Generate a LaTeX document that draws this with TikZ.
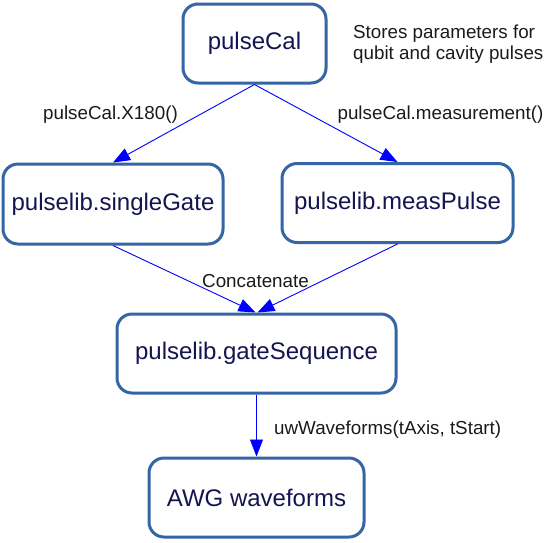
\documentclass[tikz,border=0pt]{standalone}
\usepackage{fontspec}
\setmainfont{Liberation Sans}
\usetikzlibrary{arrows.meta}
\definecolor{boxblue}{HTML}{3465A4}
\definecolor{navy}{HTML}{141450}
\definecolor{labelc}{HTML}{1A1A1A}
\tikzset{
  box/.style={draw=boxblue, line width=3pt, rounded corners=15pt, fill=white,
    text=navy, font=\fontsize{24}{28}\selectfont, inner sep=0pt, align=center},
  conn/.style={draw=blue, line width=0.9pt, -{Triangle[length=17pt,width=13pt]}},
  lbl/.style={text=labelc, font=\fontsize{18.8}{21.5}\selectfont, inner sep=0pt}
}
\begin{document}
\begin{tikzpicture}[x=1pt,y=-1pt]
\useasboundingbox (0,0) rectangle (557,542);
\node[box, minimum width=143pt, minimum height=79pt] (pc) at (254.5,43.5) {pulseCal};
\node[box, minimum width=220pt, minimum height=80pt] (sg) at (113,204) {pulselib.singleGate};
\node[box, minimum width=231pt, minimum height=79pt] (mp) at (397.5,203) {pulselib.measPulse};
\node[box, minimum width=279pt, minimum height=79pt] (gs) at (256.5,353.5) {pulselib.gateSequence};
\node[box, minimum width=215pt, minimum height=79pt] (awg) at (256.5,497.5) {AWG waveforms};
\node[lbl, anchor=west, align=left] (note) at (353,44) {Stores parameters for\\[-0.5pt]qubit and cavity pulses};
\node[lbl] (l1) at (110.5,115) {pulseCal.X180()};
\node[lbl] (l2) at (440.5,115) {pulseCal.measurement()};
\node[lbl] (l3) at (255.5,281) {Concatenate};
\node[lbl, anchor=west] (l4) at (274,430) {uwWaveforms(tAxis, tStart)};
\draw[conn] (pc.south) -- (sg.north);
\draw[conn] (pc.south) -- (mp.north);
\draw[conn] (sg.south) -- ([xshift=-1pt]gs.north);
\draw[conn] (mp.south) -- ([xshift=1pt]gs.north);
\draw[conn] (gs.south) -- (awg.north);
\end{tikzpicture}
\end{document}
